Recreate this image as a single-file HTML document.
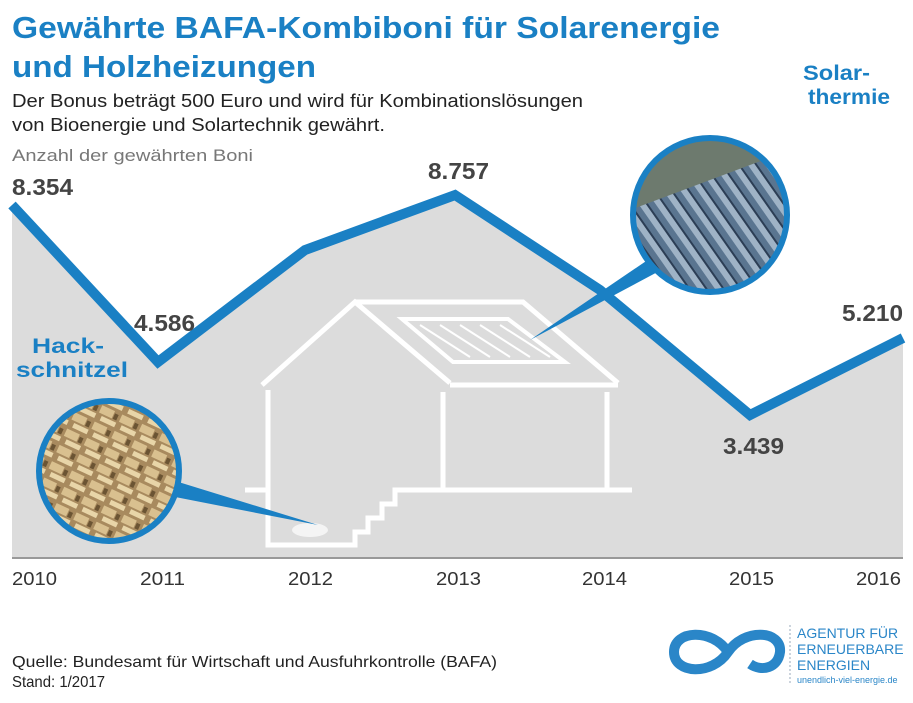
<!DOCTYPE html>
<html><head><meta charset="utf-8"><style>
body{margin:0;background:#fff;}
svg text{font-family:"Liberation Sans","DejaVu Sans",sans-serif;}
</style></head><body>
<svg width="913" height="698" viewBox="0 0 913 698" xmlns="http://www.w3.org/2000/svg">
<defs>
<pattern id="sol" width="14" height="14" patternUnits="userSpaceOnUse" patternTransform="rotate(-35)">
<rect width="14" height="14" fill="#5a7590"/><rect width="6" height="14" fill="#9fb3c6"/><rect x="6" width="2" height="14" fill="#2c3e55"/>
</pattern>
<pattern id="wood" width="22" height="18" patternUnits="userSpaceOnUse" patternTransform="rotate(25)">
<rect width="22" height="18" fill="#a88a5e"/><rect width="14" height="8" fill="#d9c08f"/><rect x="4" y="10" width="16" height="5" fill="#e8d5a8"/><rect x="15" y="2" width="4" height="6" fill="#6b5433"/>
</pattern>
<clipPath id="c1"><circle cx="710" cy="215" r="77"/></clipPath>
<clipPath id="c2"><circle cx="109" cy="471" r="70"/></clipPath>
</defs>
<rect width="913" height="698" fill="#fff"/>
<text x="12" y="38" font-size="31" font-weight="bold" fill="#1a80c4" textLength="708" lengthAdjust="spacingAndGlyphs">Gewährte BAFA-Kombiboni für Solarenergie</text>
<text x="12" y="77" font-size="31" font-weight="bold" fill="#1a80c4" textLength="304" lengthAdjust="spacingAndGlyphs">und Holzheizungen</text>
<text x="12" y="107" font-size="18" fill="#222" textLength="571" lengthAdjust="spacingAndGlyphs">Der Bonus beträgt 500 Euro und wird für Kombinationslösungen</text>
<text x="12" y="131" font-size="18" fill="#222" textLength="373" lengthAdjust="spacingAndGlyphs">von Bioenergie und Solartechnik gewährt.</text>
<text x="12" y="161" font-size="17" fill="#777" textLength="241" lengthAdjust="spacingAndGlyphs">Anzahl der gewährten Boni</text>
<polygon points="12,205 158,362 305,250 455,195 600,290 750,415 903,338 903,558 12,558" fill="#dcdcdc"/>
<line x1="12" y1="558" x2="903" y2="558" stroke="#999" stroke-width="2"/>
<g fill="none" stroke="#fff" stroke-width="5" stroke-linejoin="miter">
<polyline points="262,385 355,302 450,383"/>
<polyline points="355,302 523,302 618,383"/>
<line x1="450" y1="385" x2="618" y2="385"/>
<polyline points="268,390 268,545 355,545 355,532 368,532 368,518 382,518 382,504 395,504 395,490 632,490"/>
<line x1="245" y1="490" x2="268" y2="490"/>
<line x1="443" y1="392" x2="443" y2="490"/>
<line x1="607" y1="392" x2="607" y2="490"/>
<polygon points="402,319 508,319 565,362 453,362" stroke-width="4"/>
</g>
<g stroke="#fff" stroke-width="2">
<line x1="420" y1="325" x2="470" y2="357"/><line x1="440" y1="325" x2="490" y2="357"/><line x1="460" y1="325" x2="510" y2="357"/><line x1="480" y1="325" x2="530" y2="357"/><line x1="500" y1="325" x2="550" y2="357"/>
</g>
<ellipse cx="310" cy="530" rx="18" ry="7" fill="#f4f4f4"/>
<polygon points="530,340 655,255 665,268" fill="#1a80c4"/>
<polygon points="318,525 165,495 172,480" fill="#1a80c4"/>
<polyline points="12,205 158,362 305,250 455,195 600,290 750,415 903,338" fill="none" stroke="#1a80c4" stroke-width="10" stroke-linejoin="miter"/>
<g clip-path="url(#c1)"><rect x="630" y="135" width="160" height="160" fill="url(#sol)"/><polygon points="630,135 790,135 790,150 630,210" fill="#6d7a6e"/></g>
<circle cx="710" cy="215" r="77" fill="none" stroke="#1a80c4" stroke-width="6"/>
<g clip-path="url(#c2)"><rect x="35" y="400" width="150" height="145" fill="url(#wood)"/></g>
<circle cx="109" cy="471" r="70" fill="none" stroke="#1a80c4" stroke-width="6"/>
<g font-size="21" font-weight="bold" fill="#1a80c4">
<text x="803" y="80" textLength="67" lengthAdjust="spacingAndGlyphs">Solar-</text>
<text x="808" y="104" textLength="82" lengthAdjust="spacingAndGlyphs">thermie</text>
<text x="32" y="353" textLength="72" lengthAdjust="spacingAndGlyphs">Hack-</text>
<text x="16" y="377" textLength="112" lengthAdjust="spacingAndGlyphs">schnitzel</text>
</g>
<g font-size="23" font-weight="bold" fill="#444">
<text x="12" y="195" textLength="61" lengthAdjust="spacingAndGlyphs">8.354</text>
<text x="134" y="331" textLength="61" lengthAdjust="spacingAndGlyphs">4.586</text>
<text x="428" y="179" textLength="61" lengthAdjust="spacingAndGlyphs">8.757</text>
<text x="723" y="454" textLength="61" lengthAdjust="spacingAndGlyphs">3.439</text>
<text x="842" y="321" textLength="61" lengthAdjust="spacingAndGlyphs">5.210</text>
</g>
<g font-size="18" fill="#333">
<text x="12" y="585" textLength="45" lengthAdjust="spacingAndGlyphs">2010</text><text x="140" y="585" textLength="45" lengthAdjust="spacingAndGlyphs">2011</text><text x="288" y="585" textLength="45" lengthAdjust="spacingAndGlyphs">2012</text><text x="436" y="585" textLength="45" lengthAdjust="spacingAndGlyphs">2013</text><text x="582" y="585" textLength="45" lengthAdjust="spacingAndGlyphs">2014</text><text x="729" y="585" textLength="45" lengthAdjust="spacingAndGlyphs">2015</text><text x="856" y="585" textLength="45" lengthAdjust="spacingAndGlyphs">2016</text>
</g>
<text x="12" y="667" font-size="16" fill="#222" textLength="485" lengthAdjust="spacingAndGlyphs">Quelle: Bundesamt für Wirtschaft und Ausfuhrkontrolle (BAFA)</text>
<text x="12" y="687" font-size="16" fill="#222" textLength="93" lengthAdjust="spacingAndGlyphs">Stand: 1/2017</text>
<path d="M728,652 C712,628 674,630 674,652 C674,674 712,676 728,652 C744,628 782,630 780,652 C778,668 762,672 750,664" fill="none" stroke="#2a86c8" stroke-width="10"/>
<line x1="790" y1="625" x2="790" y2="685" stroke="#9ab" stroke-width="1" stroke-dasharray="2,2"/>
<g font-size="14" fill="#2a86c8">
<text x="797" y="638">AGENTUR FÜR</text><text x="797" y="654">ERNEUERBARE</text><text x="797" y="670">ENERGIEN</text>
<text x="797" y="683" font-size="9">unendlich-viel-energie.de</text>
</g>
</svg>
</body></html>
